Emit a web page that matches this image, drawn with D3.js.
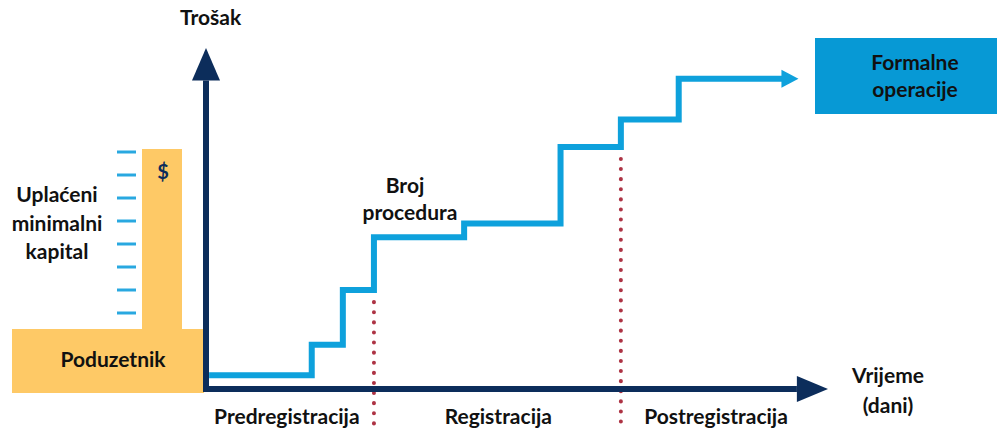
<!DOCTYPE html>
<html><head><meta charset="utf-8">
<script src="https://cdn.jsdelivr.net/npm/d3@7"></script>
<style>body{margin:0;background:#fff}svg{display:block}text{font-family:Lato,"Open Sans",sans-serif;font-weight:700;fill:#111}</style>
</head><body><svg id="c" width="1000" height="430"></svg>
<script>
// Step times (days, arbitrary units) and cost levels of the procedures
const stepTimes = [0.5, 17, 22, 27, 41.5, 57, 66.7, 76, 93];
const stepCosts = [4, 13, 29, 44.5, 48.5, 71, 79, 91, 91];
const phaseBounds = [27, 66.7];
const phaseLabels = ["Predregistracija", "Registracija", "Postregistracija"];
const phaseCenters = [13, 47, 82];
const capitalTicks = [1, 2, 3, 4, 5, 6, 7, 8];

const svg = d3.select("#c");
const x = d3.scaleLinear().domain([0, 100]).range([206, 828]);
const y = d3.scaleLinear().domain([0, 100]).range([389, 48]);

const navy = "#0c2d5b", blue = "#0ea1dc", orange = "#fec966";
const fs = 21;

// Entrepreneur block (orange)
svg.append("rect").attr("x", 12).attr("y", 329).attr("width", 192).attr("height", 64).attr("fill", orange);
svg.append("rect").attr("x", 142).attr("y", 149).attr("width", 40).attr("height", 181).attr("fill", orange);
svg.append("text").attr("x", 113).attr("y", 367).attr("text-anchor", "middle").attr("font-size", fs).text("Poduzetnik");
svg.append("text").attr("x", 163).attr("y", 179).attr("text-anchor", "middle").attr("font-size", 20).style("fill", navy).text("$");

// capital tick marks
const tickY = d3.scaleLinear().domain([1, 8]).range([152, 313]);
svg.selectAll(".ct").data(capitalTicks).join("line")
  .attr("x1", 117).attr("x2", 136).attr("y1", d => tickY(d)).attr("y2", d => tickY(d))
  .attr("stroke", "#29a8e0").attr("stroke-width", 3);

["Uplaćeni", "minimalni", "kapital"].forEach((t, i) =>
  svg.append("text").attr("x", 57).attr("y", 202 + i * 28.5).attr("text-anchor", "middle").attr("font-size", fs).text(t));

// dotted phase boundaries
const bIdx = phaseBounds.map(b => stepTimes.indexOf(b));
svg.selectAll(".pb").data(phaseBounds).join("line")
  .attr("x1", d => x(d)).attr("x2", d => x(d))
  .attr("y1", (d, i) => y(stepCosts[bIdx[i] - 1]) + 12).attr("y2", 426)
  .attr("stroke", "#ad3344").attr("stroke-width", 4).attr("stroke-linecap", "round")
  .attr("stroke-dasharray", "0.1 10");

// step line
const line = d3.line().x((d, i) => x(d)).y((d, i) => y(stepCosts[i])).curve(d3.curveStepAfter);
svg.append("path").attr("d", line(stepTimes)).attr("fill", "none").attr("stroke", blue).attr("stroke-width", 6);
const endX = x(stepTimes[stepTimes.length - 1]), endY = y(stepCosts[stepCosts.length - 1]);
svg.append("path").attr("d", `M${endX - 3},${endY - 9}L${endX + 14},${endY}L${endX - 3},${endY + 9}Z`).attr("fill", blue);

// axes
svg.append("path").attr("d", `M${x(0)},${y(90.5)}V${y(0)}H${x(95)}`).attr("fill", "none")
  .attr("stroke", navy).attr("stroke-width", 6).attr("stroke-linejoin", "miter");
svg.append("path").attr("d", `M${x(0)},${y(100)}L${x(0) + 14},${y(90.5)}L${x(0) - 14},${y(90.5)}Z`).attr("fill", navy);
svg.append("path").attr("d", `M${x(100)},${y(0)}L${x(95)},${y(0) - 13}L${x(95)},${y(0) + 13}Z`).attr("fill", navy);

svg.append("text").attr("x", 180).attr("y", 25).attr("font-size", fs).text("Trošak");
svg.append("text").attr("x", 888).attr("y", 383).attr("text-anchor", "middle").attr("font-size", fs).text("Vrijeme");
svg.append("text").attr("x", 888).attr("y", 413).attr("text-anchor", "middle").attr("font-size", fs).text("(dani)");

svg.selectAll(".pl").data(phaseLabels).join("text")
  .attr("x", (d, i) => x(phaseCenters[i])).attr("y", 424).attr("text-anchor", "middle").attr("font-size", fs).text(d => d);

svg.append("text").attr("x", 405).attr("y", 193).attr("text-anchor", "middle").attr("font-size", fs).text("Broj");
svg.append("text").attr("x", 410).attr("y", 220).attr("text-anchor", "middle").attr("font-size", fs).text("procedura");

// Formal operations box
svg.append("rect").attr("x", 815).attr("y", 38).attr("width", 182).attr("height", 76).attr("fill", "#0799d5");
svg.append("text").attr("x", 915).attr("y", 70).attr("text-anchor", "middle").attr("font-size", fs).text("Formalne");
svg.append("text").attr("x", 915).attr("y", 97).attr("text-anchor", "middle").attr("font-size", fs).text("operacije");
</script></body></html>
